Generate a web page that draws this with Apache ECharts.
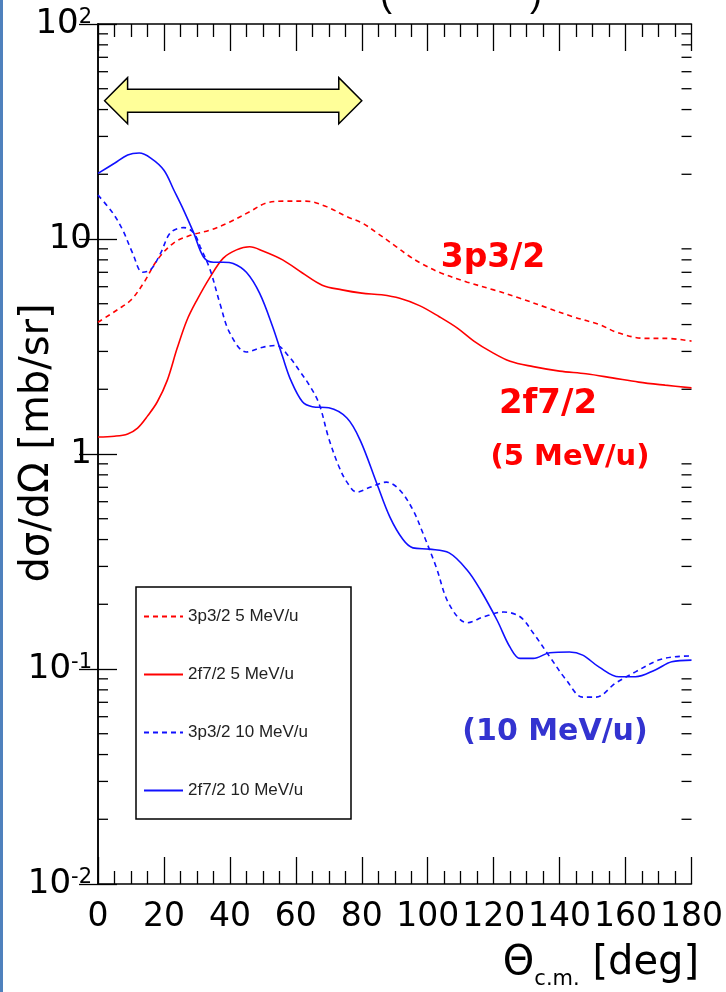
<!DOCTYPE html>
<html>
<head>
<meta charset="utf-8">
<script src="https://cdn.jsdelivr.net/npm/echarts@6/dist/echarts.min.js"></script>
<style>
html, body { margin: 0; padding: 0; background: #fff; }
#c { width: 726px; height: 992px; }
</style>
</head>
<body>
<div id="c"></div>
<script>
const FONT = '"DejaVu Sans", Arial, Helvetica, sans-serif';
const LFONT = '"Liberation Sans", Arial, Helvetica, sans-serif';

// x axis: centre-of-mass angle in degrees
const xTicks = [0, 20, 40, 60, 80, 100, 120, 140, 160, 180];
// y axis decades (mb/sr)
const yDecades = [0.01, 0.1, 1, 10, 100];

// 3p3/2 at 5 MeV/u (dashed red)
const p32_5_deg = [0, 6, 10, 14, 18, 23, 28, 34, 40, 46, 51, 56, 63, 69, 75.5, 80, 84.5, 90.5, 94, 98, 104, 112, 120, 128, 136, 144, 152, 158, 166, 172, 180];
const p32_5_val = [4.1, 4.7, 5.2, 6.3, 8.0, 9.6, 10.4, 11.0, 12.0, 13.4, 14.7, 15.0, 15.0, 14.2, 12.7, 11.9, 10.7, 9.2, 8.4, 7.7, 6.95, 6.3, 5.8, 5.3, 4.8, 4.35, 4.0, 3.65, 3.45, 3.45, 3.35];

// 2f7/2 at 5 MeV/u (solid red)
const f72_5_deg = [0, 5, 9, 12, 15, 18, 21, 24, 27, 30, 34, 38, 42, 46, 50, 56, 62, 68, 74, 80, 86, 91.5, 97.5, 103.5, 109, 114, 119, 125, 132, 140, 148, 156, 164, 172, 180];
const f72_5_val = [1.2, 1.21, 1.24, 1.32, 1.5, 1.75, 2.2, 3.1, 4.2, 5.2, 6.65, 8.15, 8.9, 9.2, 8.8, 8.0, 6.95, 6.1, 5.8, 5.6, 5.5, 5.3, 4.9, 4.35, 3.85, 3.35, 3.0, 2.7, 2.55, 2.43, 2.36, 2.26, 2.16, 2.09, 2.03];

// 3p3/2 at 10 MeV/u (dashed blue)
const p32_10_deg = [0, 4.5, 7.5, 10.5, 13.5, 16, 19, 22, 26, 29, 31, 34, 37, 40, 45, 50, 54, 58, 61, 64, 67, 70, 73, 75.5, 78.5, 82.5, 87.5, 91.5, 95.5, 98.5, 102.5, 106.5, 112, 117, 123, 128, 132, 137, 142, 147, 151, 157, 163, 170, 175, 180];
const p32_10_val = [16, 13.2, 11.0, 8.6, 7.0, 7.2, 8.6, 10.7, 11.3, 10.7, 9.2, 7.2, 5.0, 3.65, 2.98, 3.14, 3.2, 2.83, 2.45, 2.1, 1.72, 1.18, 0.88, 0.74, 0.665, 0.70, 0.74, 0.68, 0.55, 0.43, 0.30, 0.20, 0.164, 0.175, 0.184, 0.175, 0.147, 0.114, 0.089, 0.074, 0.074, 0.086, 0.097, 0.11, 0.114, 0.115];

// 2f7/2 at 10 MeV/u (solid blue)
const f72_10_deg = [0, 5, 9, 12.5, 16, 20, 23, 26, 29, 32, 35, 38, 41, 45, 49, 53, 56, 58.5, 62, 65, 70, 75.5, 79.5, 84.5, 88.5, 92.5, 95.5, 100.5, 106.5, 112, 116, 121, 125, 128, 132, 137, 143, 147, 152, 158, 163, 169, 174, 180];
const f72_10_val = [20.2, 22.5, 24.6, 25.1, 23.8, 20.9, 16.9, 13.6, 10.7, 8.25, 7.8, 7.8, 7.7, 7.0, 5.6, 3.9, 2.83, 2.2, 1.75, 1.66, 1.64, 1.47, 1.16, 0.733, 0.51, 0.40, 0.366, 0.361, 0.347, 0.288, 0.233, 0.169, 0.126, 0.112, 0.112, 0.119, 0.12, 0.116, 0.102, 0.092, 0.092, 0.099, 0.108, 0.11];

const seriesNames = ['3p3/2 5 MeV/u', '2f7/2 5 MeV/u', '3p3/2 10 MeV/u', '2f7/2 10 MeV/u'];

const RED = '#ff0000';
const BLUE = '#1010ff';

// minor log ticks: 2..9 within each decade
const minorTickValues = [];
for (let d = 0; d < yDecades.length - 1; d++) {
  for (let m = 2; m <= 9; m++) minorTickValues.push([0, +(m * yDecades[d]).toPrecision(3)]);
}

function zip(xs, ys) { return xs.map((x, i) => [x, ys[i]]); }

function curve(name, xs, ys, color, dashed) {
  return {
    name, type: 'line', data: zip(xs, ys),
    smooth: 0.35, symbol: 'none', showSymbol: false,
    lineStyle: { color, width: 1.6, type: dashed ? [5, 4] : 'solid' },
    itemStyle: { color, opacity: 0 },
    z: 3
  };
}

const GRID = { left: 98, right: 34, top: 24, bottom: 108 };

const chart = echarts.init(document.getElementById('c'), null, { renderer: 'canvas' });

function yLabel(v) {
  const e = Math.round(Math.log10(v));
  if (e === 0) return '1';
  if (e === 1) return '10';
  return '{b|10}{s|' + (e < 0 ? '-' + (-e) : e) + '}';
}

const xAxisBase = {
  type: 'value', min: 0, max: 180, interval: 20,
  axisLine: { show: true, lineStyle: { color: '#000', width: 1.5 } },
  axisTick: { show: true, inside: true, length: 27, lineStyle: { color: '#000', width: 1.3 } },
  minorTick: { show: true, splitNumber: 4, length: 13, lineStyle: { color: '#000', width: 1.3 } },
  splitLine: { show: false }
};

const yAxisBase = {
  type: 'log', logBase: 10, min: 0.01, max: 100,
  axisLine: { show: true, lineStyle: { color: '#000', width: 1.5 } },
  axisTick: { show: true, inside: true, length: 19, lineStyle: { color: '#000', width: 1.3 } },
  splitLine: { show: false }
};

chart.setOption({
  animation: false,
  backgroundColor: '#fff',
  grid: GRID,
  xAxis: [
    Object.assign({}, xAxisBase, {
      position: 'bottom',
      axisLabel: { show: true, margin: 17, color: '#000', fontFamily: FONT, fontSize: 33 }
    }),
    Object.assign({}, xAxisBase, { position: 'top', axisLabel: { show: false } })
  ],
  yAxis: [
    Object.assign({}, yAxisBase, {
      position: 'left',
      axisLabel: {
        show: true, margin: 6, color: '#000', fontFamily: FONT, fontSize: 34,
        formatter: yLabel,
        rich: {
          b: { fontFamily: FONT, fontSize: 34, color: '#000' },
          s: { fontFamily: FONT, fontSize: 21, color: '#000', verticalAlign: 'top' }
        }
      }
    }),
    Object.assign({}, yAxisBase, { position: 'right', axisLabel: { show: false } })
  ],
  legend: {
    data: seriesNames,
    orient: 'vertical',
    left: 143, top: 608,
    itemWidth: 39, itemHeight: 14, itemGap: 41,
    padding: 0,
    itemStyle: { opacity: 0 },
    textStyle: { fontFamily: LFONT, fontSize: 17, color: '#222' },
    selectedMode: false
  },
  series: [
    curve(seriesNames[0], p32_5_deg, p32_5_val, RED, true),
    curve(seriesNames[1], f72_5_deg, f72_5_val, RED, false),
    curve(seriesNames[2], p32_10_deg, p32_10_val, BLUE, true),
    curve(seriesNames[3], f72_10_deg, f72_10_val, BLUE, false),
    {
      name: 'minor ticks', type: 'custom', silent: true, data: minorTickValues,
      encode: { x: 0, y: 1 },
      renderItem: (params, api) => {
        const cs = params.coordSys;
        const p = api.coord([0, api.value(1)]);
        const st = { stroke: '#000', lineWidth: 1.3 };
        return {
          type: 'group',
          children: [
            { type: 'line', shape: { x1: cs.x, y1: p[1], x2: cs.x + 10, y2: p[1] }, style: st },
            { type: 'line', shape: { x1: cs.x + cs.width - 10, y1: p[1], x2: cs.x + cs.width, y2: p[1] }, style: st }
          ]
        };
      },
      z: 2
    }
  ]
});

// annotations, legend frame, and the arrow marking the angular window
const xPx = v => chart.convertToPixel({ xAxisIndex: 0 }, v);
const yPx = v => chart.convertToPixel({ yAxisIndex: 0 }, v);

const xa = xPx(2), xb = xPx(80), yc = yPx(44);
const head = 23, shaft = 11.5, hl = 23;
const arrowPts = [
  [xa, yc], [xa + hl, yc - head], [xa + hl, yc - shaft], [xb - hl, yc - shaft], [xb - hl, yc - head],
  [xb, yc], [xb - hl, yc + head], [xb - hl, yc + shaft], [xa + hl, yc + shaft], [xa + hl, yc + head]
];

function label(x, y, text, size, color, bold) {
  return { type: 'text', x, y, z: 10,
    style: { text, font: (bold ? 'bold ' : '') + size + 'px ' + FONT, fill: color, textAlign: 'center', textVerticalAlign: 'middle' } };
}

chart.setOption({
  graphic: [
    { type: 'rect', shape: { x: 0, y: 0, width: 3, height: 992 }, style: { fill: '#4f81bd' } },
    { type: 'text', x: 386, y: 14, style: { text: '(', font: '36px ' + LFONT, fill: '#000', textAlign: 'center', textVerticalAlign: 'bottom' } },
    { type: 'text', x: 536, y: 14, style: { text: ')', font: '36px ' + LFONT, fill: '#000', textAlign: 'center', textVerticalAlign: 'bottom' } },
    { type: 'polygon', shape: { points: arrowPts }, style: { fill: '#ffff99', stroke: '#000', lineWidth: 1.5 }, z: 10 },
    { type: 'rect', shape: { x: 136, y: 587, width: 215, height: 232 }, style: { fill: 'transparent', stroke: '#000', lineWidth: 1.5 }, z: 10 },
    label(493, 258, '3p3/2', 33, RED, true),
    label(548, 404, '2f7/2', 34, RED, true),
    label(570, 457, '(5 MeV/u)', 29, RED, true),
    label(555, 732, '(10 MeV/u)', 30, '#3333d0', true),
    { type: 'text', x: 38, y: 443, rotation: Math.PI / 2,
      style: { text: 'dσ/dΩ [mb/sr]', font: '40px ' + FONT, fill: '#000', textAlign: 'center', textVerticalAlign: 'middle' } },
    { type: 'text', x: 699, y: 984,
      style: {
        text: '{t|Θ}{s|c.m.}{t| [deg]}', textAlign: 'right', textVerticalAlign: 'bottom',
        rich: {
          t: { fontFamily: FONT, fontSize: 40, color: '#000', verticalAlign: 'bottom' },
          s: { fontFamily: FONT, fontSize: 21, color: '#000', verticalAlign: 'bottom', padding: [0, 0, -6, 0] }
        }
      } }
  ]
});
</script>
</body>
</html>
